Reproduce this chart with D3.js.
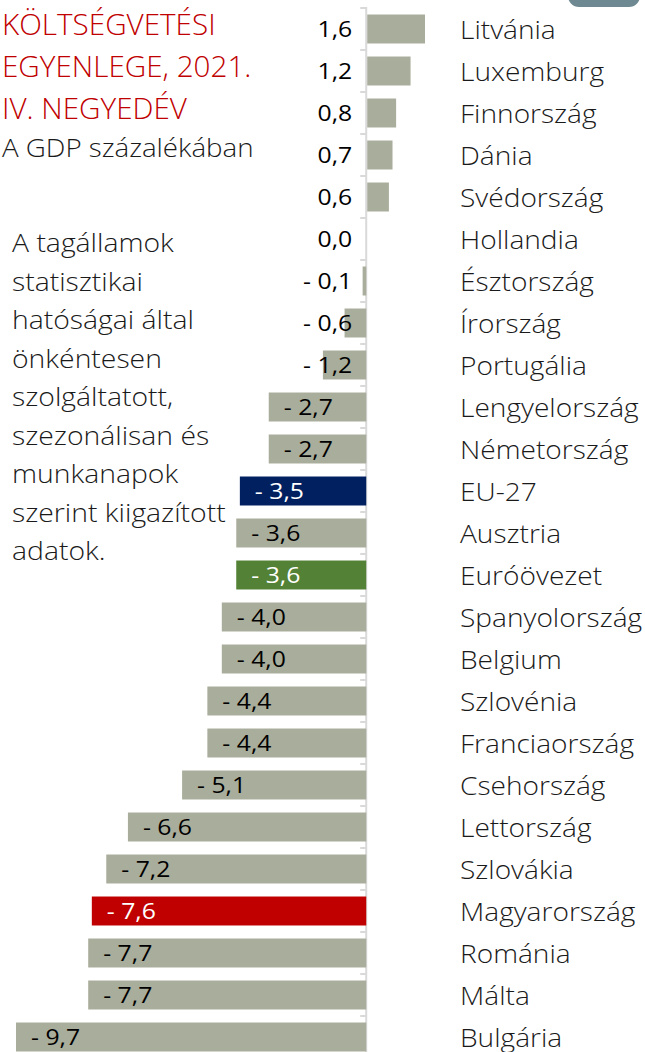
<!DOCTYPE html>
<html><head><meta charset="utf-8">
<script src="https://cdn.jsdelivr.net/npm/d3@7"></script>
<style>body{margin:0;background:#fff}svg{display:block}</style>
</head><body><svg id="c" width="645" height="1052"></svg>
<script>
const countries = ["Litvánia","Luxemburg","Finnország","Dánia","Svédország","Hollandia","Észtország","Írország","Portugália","Lengyelország","Németország","EU-27","Ausztria","Euróövezet","Spanyolország","Belgium","Szlovénia","Franciaország","Csehország","Lettország","Szlovákia","Magyarország","Románia","Málta","Bulgária"];
const values = [1.6,1.2,0.8,0.7,0.6,0.0,-0.1,-0.6,-1.2,-2.7,-2.7,-3.5,-3.6,-3.6,-4.0,-4.0,-4.4,-4.4,-5.1,-6.6,-7.2,-7.6,-7.7,-7.7,-9.7];
const highlights = {"EU-27":"#002060","Euróövezet":"#538135","Magyarország":"#c00000"};
const titleLines = ["KÖLTSÉGVETÉSI","EGYENLEGE, 2021.","IV. NEGYEDÉV"];
const subtitle = "A GDP százalékában";
const noteLines = ["A tagállamok","statisztikai","hatóságai által","önkéntesen","szolgáltatott,","szezonálisan és","munkanapok","szerint kiigazított","adatok."];

const FONT = "'Open Sans', sans-serif";
const svg = d3.select("#c");
const x = d3.scaleLinear().domain([-9.7, 1.6]).range([16, 424]);
const y = d3.scaleBand().domain(countries).range([8, 8 + 42*countries.length]).paddingInner(0.31).paddingOuter(0.155);
const x0 = x(0);
const greyBar = "#a9ad9b";

function stretch(sel, f){ sel.each(function(){ const w=this.getComputedTextLength(); d3.select(this).attr("textLength", w*f).attr("lengthAdjust","spacingAndGlyphs"); }); }

svg.append("rect").attr("x",568).attr("y",-22).attr("width",72).attr("height",29).attr("rx",11).attr("fill","#6e8991");

svg.append("line").attr("x1",x0).attr("x2",x0).attr("y1",7).attr("y2",1052).attr("stroke","#d9d9d9").attr("stroke-width",2);
const step = y.step();
d3.range(countries.length+1).forEach(i=>{
  const yy = 8 + i*step;
  svg.append("line").attr("x1",x0-6).attr("x2",x0).attr("y1",yy).attr("y2",yy).attr("stroke","#d9d9d9").attr("stroke-width",2);
});

const data = countries.map((c,i)=>({c, v: values[i]}));
svg.selectAll("rect.bar").data(data).join("rect").attr("class","bar")
  .attr("x", d=>Math.min(x(d.v), x0+1))
  .attr("y", d=>y(d.c))
  .attr("width", d=>Math.abs(x(d.v)-x0))
  .attr("height", y.bandwidth())
  .attr("fill", d=>highlights[d.c] || greyBar);

const fmt = v => (v<0 ? "- " : "") + Math.abs(v).toFixed(1).replace(".",",");
const VF = 1.1;
const labels = svg.selectAll("text.val").data(data).join("text").attr("class","val")
  .attr("y", d=>y(d.c)+y.bandwidth()/2)
  .attr("dy","0.36em")
  .attr("font-family",FONT).attr("font-size",22.5).attr("font-weight",400)
  .attr("fill", d=>highlights[d.c] ? "#fff" : "#000")
  .attr("text-anchor","end")
  .text(d=>fmt(d.v));
labels.each(function(d){
  const w = this.getComputedTextLength()*VF;
  let xe;
  if (d.v >= 0) xe = x0-14;
  else xe = Math.min(x(d.v)+15+w, x0-14);
  d3.select(this).attr("x", xe);
});
stretch(labels, VF);

const cats = svg.selectAll("text.cat").data(data).join("text").attr("class","cat")
  .attr("x",460).attr("y", d=>y(d.c)+y.bandwidth()/2).attr("dy","0.36em")
  .attr("font-family",FONT).attr("font-size",26.5).attr("font-weight",300).attr("fill","#1a1a1a")
  .text(d=>d.c);
stretch(cats, 1.06);

const tl = svg.selectAll("text.title").data(titleLines).join("text").attr("class","title")
  .attr("x",2).attr("y",(d,i)=>35+i*41.8).attr("font-family",FONT).attr("font-size",28.5).attr("font-weight",300).attr("fill","#c00000").text(d=>d);
stretch(tl, 1.04);
const st = svg.append("text").attr("x",2).attr("y",157).attr("font-family",FONT).attr("font-size",26).attr("font-weight",300).attr("fill","#1a1a1a").text(subtitle);
stretch(st, 1.065);
const nl = svg.selectAll("text.note").data(noteLines).join("text").attr("class","note")
  .attr("x",12).attr("y",(d,i)=>252+i*38.5).attr("font-family",FONT).attr("font-size",26).attr("font-weight",300).attr("fill","#1a1a1a").text(d=>d);
stretch(nl, 1.09);
</script></body></html>
